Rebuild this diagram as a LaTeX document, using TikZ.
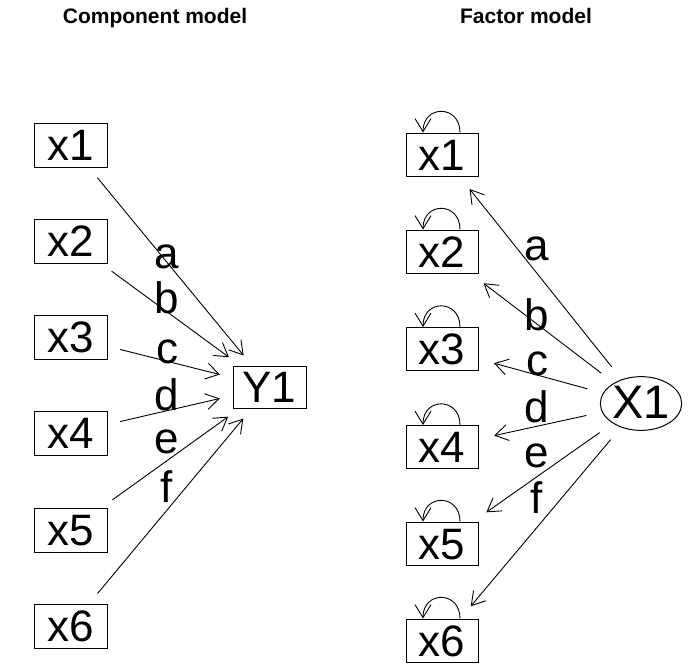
\documentclass[tikz,border=0pt]{standalone}
\usepackage{fontspec}
\setmainfont{Liberation Sans}
\usetikzlibrary{arrows.meta,shapes.geometric}
\tikzset{
  varbox/.style={draw, line width=1pt, minimum width=73pt, minimum height=44pt, inner sep=0pt,
    text height=31.5pt, text depth=0pt, font=\fontsize{44}{44}\selectfont},
  latent/.style={draw, ellipse, line width=1pt, minimum width=72pt, minimum height=47pt, inner sep=0pt,
    text height=34pt, text depth=4pt, font=\fontsize{47}{47}\selectfont},
  coef/.style={anchor=base, inner sep=0pt, font=\fontsize{44}{44}\selectfont},
  title/.style={anchor=base, inner sep=0pt, font=\fontsize{21}{21}\selectfont\bfseries},
  loading/.style={line width=0.9pt, -{Straight Barb[length=13pt,width=16pt]}},
}
\begin{document}
\begin{tikzpicture}[x=1pt,y=-1pt]
			\useasboundingbox (0,0) rectangle (695,667);
			
			%%%%% COMPONENT MODEL %%%%%
			\node[title] (ctitle) at (155,23) {Component model};
			
			\node[varbox] (cx1) at (70.5,145) {x1};
			\node[varbox] (cx2) at (70.5,241) {x2};
			\node[varbox] (cx3) at (70.5,337) {x3};
			\node[varbox] (cx4) at (70.5,433) {x4};
			\node[varbox] (cx5) at (70.5,530) {x5};
			\node[varbox] (cx6) at (70.5,626) {x6};
			
			\node[varbox, minimum height=42pt] (cy1) at (269.5,387) {Y1};
			
			\draw[loading, shorten <=13pt, shorten >=13pt] (cx1) -- (cy1);
			\draw[loading, shorten <=13pt, shorten >=14pt] (cx2) -- (cy1);
			\draw[loading, shorten <=13pt, shorten >=13pt] (cx3) -- (cy1);
			\draw[loading, shorten <=13pt, shorten >=13pt] (cx4) -- (cy1);
			\draw[loading, shorten <=13pt, shorten >=14pt] (cx5) -- (cy1);
			\draw[loading, shorten <=13pt, shorten >=13pt] (cx6) -- (cy1);
			
			\node[coef] (ca) at (167,268) {a};
			\node[coef] (cb) at (167,313) {b};
			\node[coef] (cc) at (167,363) {c};
			\node[coef] (cd) at (167,410) {d};
			\node[coef] (ce) at (167,453) {e};
			\node[coef] (cf) at (167,502) {f};
			
			%%%%% FACTOR MODEL %%%%%
			\node[title] (ftitle) at (526,23) {Factor model};
			
			\node[varbox, minimum width=72pt, minimum height=43pt] (fx1) at (442,154.5) {x1};
			\node[varbox, minimum width=72pt, minimum height=43pt] (fx2) at (442,251.5) {x2};
			\node[varbox, minimum width=72pt, minimum height=43pt] (fx3) at (442,349) {x3};
			\node[varbox, minimum width=72pt, minimum height=43pt] (fx4) at (442,447) {x4};
			\node[varbox, minimum width=72pt, minimum height=43pt] (fx5) at (442,543.5) {x5};
			\node[varbox, minimum width=72pt, minimum height=43pt] (fx6) at (442,640.5) {x6};
			
			\node[latent] (fX1) at (641,403.5) {X1};
			
			\draw[loading, shorten <=16pt, shorten >=16pt] (fX1) -- (fx1);
			\draw[loading, shorten <=16pt, shorten >=16pt] (fX1) -- (fx2);
			\draw[loading, shorten <=16pt, shorten >=16pt] (fX1) -- (fx3);
			\draw[loading, shorten <=16pt, shorten >=16pt] (fX1) -- (fx4);
			\draw[loading, shorten <=16pt, shorten >=16pt] (fX1) -- (fx5);
			\draw[loading, shorten <=16pt, shorten >=16pt] (fX1) -- (fx6);
			
			% error variances
			\draw[loading] ([xshift=18pt]fx1.north) .. controls +(0,-28) and +(0,-28) .. ([xshift=-19pt]fx1.north);
			\draw[loading] ([xshift=18pt]fx2.north) .. controls +(0,-28) and +(0,-28) .. ([xshift=-19pt]fx2.north);
			\draw[loading] ([xshift=18pt]fx3.north) .. controls +(0,-28) and +(0,-28) .. ([xshift=-19pt]fx3.north);
			\draw[loading] ([xshift=18pt]fx4.north) .. controls +(0,-28) and +(0,-28) .. ([xshift=-19pt]fx4.north);
			\draw[loading] ([xshift=18pt]fx5.north) .. controls +(0,-28) and +(0,-28) .. ([xshift=-19pt]fx5.north);
			\draw[loading] ([xshift=18pt]fx6.north) .. controls +(0,-28) and +(0,-28) .. ([xshift=-19pt]fx6.north);
			
			\node[coef] (fa) at (537,260) {a};
			\node[coef] (fb) at (537,330) {b};
			\node[coef] (fc) at (537,375) {c};
			\node[coef] (fd) at (537,422) {d};
			\node[coef] (fe) at (537,467) {e};
			\node[coef] (ff) at (537,513) {f};
			
\end{tikzpicture}
\end{document}
